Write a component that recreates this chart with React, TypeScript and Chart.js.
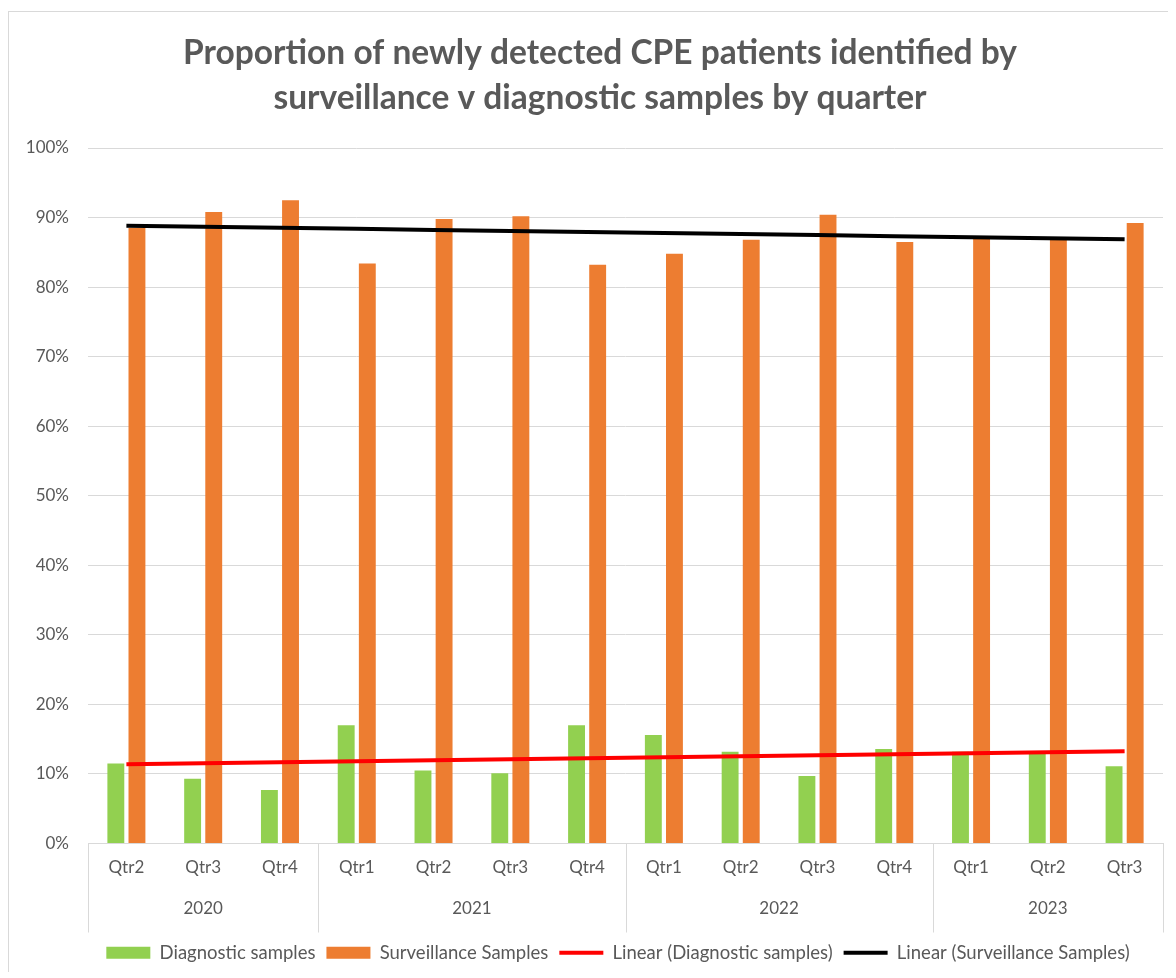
import React, { useEffect, useRef } from "react";
import { Chart, registerables } from "chart.js";

Chart.register(...registerables);

const quarterLabels = ["Qtr2", "Qtr3", "Qtr4", "Qtr1", "Qtr2", "Qtr3", "Qtr4", "Qtr1", "Qtr2", "Qtr3", "Qtr4", "Qtr1", "Qtr2", "Qtr3"];
const yearLabels = ["2020", "2021", "2022", "2023"];
const quartersPerYear = [3, 4, 4, 3];
const diagnostic = [11.5, 9.3, 7.7, 17.0, 10.5, 10.1, 17.0, 15.6, 13.2, 9.7, 13.6, 13.2, 13.0, 11.1];
const surveillance = [88.5, 90.8, 92.5, 83.4, 89.8, 90.2, 83.2, 84.8, 86.8, 90.4, 86.5, 86.9, 86.9, 89.2];
const yTicks = [0, 10, 20, 30, 40, 50, 60, 70, 80, 90, 100];

const TEXT = "#595959";
const GRID = "#d9d9d9";
const FONT = "Lato, 'Open Sans', sans-serif";
const X_AXIS_HEIGHT = 89;
const LEGEND_SHIFT = 32;
const TITLE_SHIFT = 14;

function linearTrend(values: number[]): number[] {
  const n = values.length;
  const xs = values.map((_, i) => i + 1);
  const mx = xs.reduce((a, b) => a + b, 0) / n;
  const my = values.reduce((a, b) => a + b, 0) / n;
  let sxy = 0;
  let sxx = 0;
  for (let i = 0; i < n; i++) {
    sxy += (xs[i] - mx) * (values[i] - my);
    sxx += (xs[i] - mx) * (xs[i] - mx);
  }
  const slope = sxy / sxx;
  const intercept = my - slope * mx;
  return xs.map((x) => intercept + slope * x);
}

const yearAxisPlugin = {
  id: "yearAxis",
  afterLayout(chart: any) {
    const lg = chart.legend;
    if (lg) {
      lg.left += LEGEND_SHIFT;
      lg.right += LEGEND_SHIFT;
    }
    const tb = chart.titleBlock;
    if (tb) {
      tb.left += TITLE_SHIFT;
      tb.right += TITLE_SHIFT;
    }
  },
  afterDraw(chart: any) {
    const xs = chart.scales.x;
    const ctx = chart.ctx;
    const w = (xs.right - xs.left) / quarterLabels.length;
    const top = chart.chartArea.bottom;
    const bottom = top + X_AXIS_HEIGHT;
    ctx.save();
    ctx.strokeStyle = GRID;
    ctx.lineWidth = 1;
    let idx = 0;
    const bounds = [0];
    quartersPerYear.forEach((c) => {
      idx += c;
      bounds.push(idx);
    });
    bounds.forEach((b) => {
      const x = Math.round(xs.left + b * w) + 0.5;
      ctx.beginPath();
      ctx.moveTo(x, top);
      ctx.lineTo(x, bottom);
      ctx.stroke();
    });
    ctx.fillStyle = TEXT;
    ctx.font = `17px ${FONT}`;
    ctx.textAlign = "center";
    ctx.textBaseline = "middle";
    yearLabels.forEach((yl, i) => {
      const cx = xs.left + ((bounds[i] + bounds[i + 1]) / 2) * w;
      ctx.fillText(yl, cx, top + 65);
    });
    ctx.restore();
  },
};

export default function App() {
  const ref = useRef<HTMLCanvasElement | null>(null);

  useEffect(() => {
    document.body.style.overflow = "hidden";
    const canvas = ref.current;
    if (!canvas) return;
    const chart = new Chart(canvas, {
      type: "bar",
      data: {
        labels: quarterLabels,
        datasets: [
          {
            type: "bar",
            label: "Diagnostic samples",
            data: diagnostic,
            backgroundColor: "#92D050",
            categoryPercentage: 0.55,
            barPercentage: 0.8,
            order: 2,
          },
          {
            type: "bar",
            label: "Surveillance Samples",
            data: surveillance,
            backgroundColor: "#ED7D31",
            categoryPercentage: 0.55,
            barPercentage: 0.8,
            order: 2,
          },
          {
            type: "line",
            label: "Linear (Diagnostic samples)",
            data: linearTrend(diagnostic),
            borderColor: "#FF0000",
            backgroundColor: "#FF0000",
            borderWidth: 4,
            pointRadius: 0,
            fill: false,
            order: 1,
          },
          {
            type: "line",
            label: "Linear (Surveillance Samples)",
            data: linearTrend(surveillance),
            borderColor: "#000000",
            backgroundColor: "#000000",
            borderWidth: 4,
            pointRadius: 0,
            fill: false,
            order: 0,
          },
        ] as any,
      },
      options: {
        animation: false,
        responsive: false,
        layout: { padding: { left: 0, right: 13, top: 0, bottom: 0 } },
        plugins: {
          title: {
            display: true,
            text: [
              "Proportion of newly detected CPE patients identified by",
              "surveillance v diagnostic samples by quarter",
            ],
            color: TEXT,
            font: { family: FONT, size: 33.5, weight: "bold", lineHeight: 45 / 33.5 },
            padding: { top: 19, bottom: 27 },
          },
          legend: {
            position: "bottom",
            labels: {
              color: TEXT,
              font: { family: FONT, size: 18.5 },
              usePointStyle: true,
              pointStyleWidth: 44,
              boxHeight: 12,
              padding: 11,
              generateLabels: (ch: any) =>
                ch.data.datasets.map((ds: any, i: number) => {
                  const isLine = ds.type === "line";
                  const col = isLine ? ds.borderColor : ds.backgroundColor;
                  return {
                    text: ds.label,
                    fillStyle: col,
                    strokeStyle: col,
                    lineWidth: isLine ? 4 : 0,
                    pointStyle: isLine ? "line" : "rect",
                    hidden: false,
                    datasetIndex: i,
                    fontColor: TEXT,
                  };
                }),
            },
          },
          tooltip: { enabled: false },
        },
        scales: {
          x: {
            grid: { display: false, drawTicks: false },
            border: { display: true, color: GRID },
            ticks: { color: TEXT, font: { family: FONT, size: 17 }, padding: 14, maxRotation: 0, autoSkip: false },
            afterFit: (s: any) => {
              s.height = X_AXIS_HEIGHT;
            },
          },
          y: {
            min: 0,
            max: 100,
            afterBuildTicks: (s: any) => {
              s.ticks = yTicks.map((v) => ({ value: v }));
            },
            grid: { color: GRID, drawTicks: false },
            border: { display: false },
            ticks: {
              color: TEXT,
              font: { family: FONT, size: 17 },
              padding: 19,
              callback: (v: any) => `${v}%`,
            },
            afterFit: (s: any) => {
              s.width = 79;
            },
          },
        },
      } as any,
      plugins: [yearAxisPlugin],
    });
    return () => chart.destroy();
  }, []);

  return (
    <div style={{ marginTop: 3, borderTop: `1px solid ${GRID}`, borderLeft: `1px solid ${GRID}`, width: 1167 }}>
      <canvas ref={ref} width={1167} height={960} style={{ display: "block", width: 1167, height: 960 }} />
    </div>
  );
}
